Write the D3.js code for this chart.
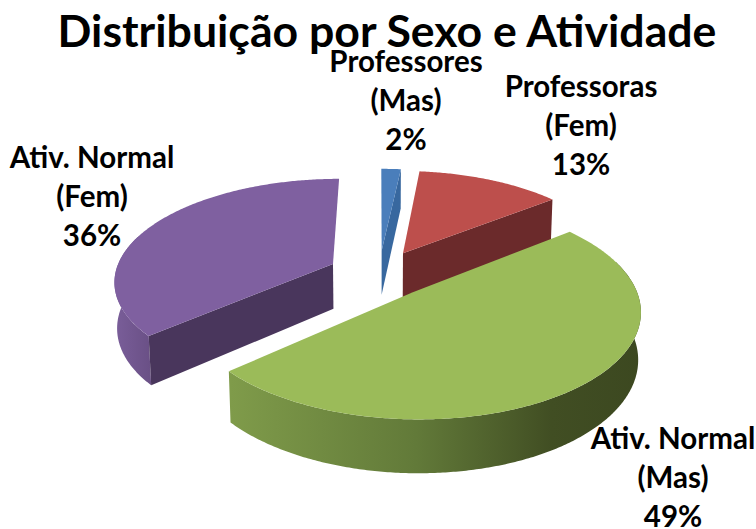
<!DOCTYPE html>
<html>
<head>
<meta charset="utf-8">
<script src="https://cdn.jsdelivr.net/npm/d3@7"></script>
<style>
  html, body { margin: 0; background: #fff; }
  text { font-family: Lato, "Open Sans", sans-serif; font-weight: bold; fill: #000; }
</style>
</head>
<body>
<div id="chart"></div>
<script>
const categories = ["Professores (Mas)", "Professoras (Fem)", "Ativ. Normal (Mas)", "Ativ. Normal (Fem)"];
const labelLines = [["Professores", "(Mas)"], ["Professoras", "(Fem)"], ["Ativ. Normal", "(Mas)"], ["Ativ. Normal", "(Fem)"]];
// labels are rounded, slice sizes read a little finer from the picture
const values = [1.7, 12.6, 49, 36.4];
const topColors = ["#4a7ebb", "#bd4f4c", "#9bbb59", "#7f60a0"];
const faceColors = ["#38689f", "#6b2a2b", "#56692f", "#49365c"];

const width = 756,
  height = 529,
  cx = 379,
  cy = 273.5,
  rx = 218,
  ry = 101,
  depth = 46,
  persp = 0.155,
  explode = 0.235;

const labelPos = [[406, 72], [581, 97], [673, 449], [92, 168]];

// plane coords -> screen, near side of the pie is y > 0
function project(x, y, z) {
  const w = 1 - persp * y + 0.01 * z;
  return [cx + rx * x / w, cy + (ry * y + depth * z) / w];
}

const arcs = d3.pie().sort(null).value(d => d)(values);
const line = d3.line();
const pct = d3.format(".0f");

const svg = d3.select("#chart")
  .append("svg")
  .attr("width", width)
  .attr("height", height)
  .style("display", "block");

const defs = svg.append("defs");
const wallStops = {
  2: [["0%", "#7f9b4a"], ["45%", "#627a39"], ["78%", "#414e23"], ["100%", "#3c4820"]],
  3: [["0%", "#7b5f9b"], ["100%", "#6a5086"]]
};
for (const i of [2, 3]) {
  const g = defs.append("linearGradient")
    .attr("id", "wall" + i)
    .attr("gradientUnits", "userSpaceOnUse")
    .attr("x1", i === 2 ? 231 : 112)
    .attr("x2", i === 2 ? 642 : 150)
    .attr("y1", 0)
    .attr("y2", 0);
  g.selectAll("stop").data(wallStops[i]).join("stop")
    .attr("offset", d => d[0])
    .attr("stop-color", d => d[1]);
}

function drawSlice(d) {
  const i = d.index,
    mid = (d.startAngle + d.endAngle) / 2,
    ox = explode * Math.sin(mid),
    oy = -explode * Math.cos(mid);
  const pt = (a, z) => project(ox + Math.sin(a), oy - Math.cos(a), z);
  const apex = z => project(ox, oy, z);
  const angles = (a, b) => {
    const n = Math.max(2, Math.ceil((b - a) / 0.01));
    return d3.range(n + 1).map(k => a + (b - a) * k / n);
  };
  const g = svg.append("g").attr("class", "slice");

  // outer wall, a bit past the quarter points because of the perspective
  const a0 = Math.max(d.startAngle, Math.PI / 2 - 0.3),
    a1 = Math.min(d.endAngle, Math.PI * 3 / 2 + 0.3);
  if (a1 > a0 && wallStops[i]) {
    const edge = angles(a0, a1);
    g.append("path")
      .attr("fill", `url(#wall${i})`)
      .attr("d", line([...edge.map(a => pt(a, 0)), ...edge.reverse().map(a => pt(a, 1))]) + "Z");
  }

  // cut faces
  const face = a => line([apex(0), pt(a, 0), pt(a, 1), apex(1)]) + "Z";
  if (d.endAngle < Math.PI) {
    g.append("path").attr("fill", faceColors[i]).attr("d", face(d.endAngle));
  }
  if (d.startAngle > Math.PI) {
    g.append("path").attr("fill", faceColors[i]).attr("d", face(d.startAngle));
  }

  // top of the slice
  g.append("path")
    .attr("fill", topColors[i])
    .attr("d", line([apex(0), ...angles(d.startAngle, d.endAngle).map(a => pt(a, 0))]) + "Z");
}

// back slices first
arcs.slice()
  .sort((a, b) => d3.descending(
    Math.cos((a.startAngle + a.endAngle) / 2),
    Math.cos((b.startAngle + b.endAngle) / 2)))
  .forEach(drawSlice);

svg.append("text")
  .attr("x", 387)
  .attr("y", 47)
  .attr("text-anchor", "middle")
  .attr("font-size", 44.6)
  .text("Distribuição por Sexo e Atividade");

svg.append("g")
  .attr("font-size", 29.5)
  .attr("text-anchor", "middle")
  .selectAll("text")
  .data(arcs)
  .join("text")
  .attr("transform", d => `translate(${labelPos[d.index]})`)
  .selectAll("tspan")
  .data(d => [...labelLines[d.index], pct(d.data) + "%"])
  .join("tspan")
  .attr("x", 0)
  .attr("y", (d, i) => i * 39)
  .text(d => d);
</script>
</body>
</html>
